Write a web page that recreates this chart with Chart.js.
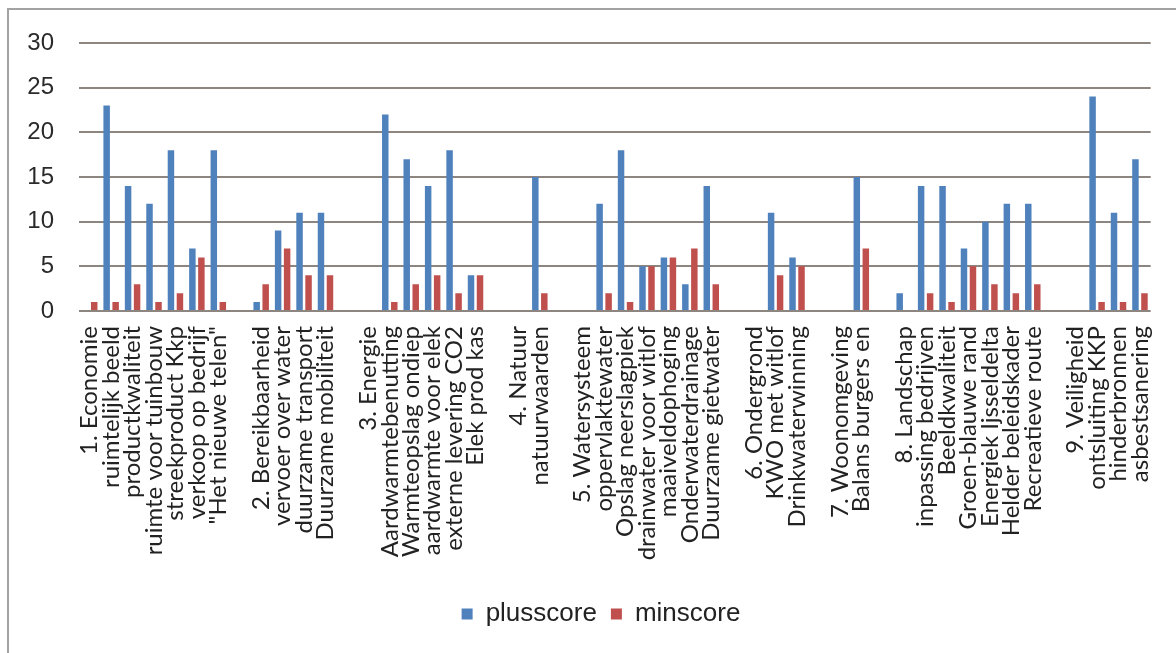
<!DOCTYPE html>
<html>
<head>
<meta charset="utf-8">
<script src="https://cdn.jsdelivr.net/npm/chart.js@4.4.1/dist/chart.umd.min.js"></script>
<style>
  html, body { margin: 0; padding: 0; background: #fff; }
  #wrap { position: relative; width: 1176px; height: 653px; }
  #frame { position: absolute; left: 7px; top: 8px; right: -10px; bottom: -10px;
    border-left: 2px solid #a3a3a3; border-top: 2px solid #a3a3a3; pointer-events: none; }
</style>
</head>
<body>
<div id="wrap">
  <canvas id="chart" width="1176" height="653"></canvas>
  <div id="frame"></div>
</div>
<script>
// categories, '' = empty spacer between themes
const categories = [
  '1. Economie', 'ruimtelijk beeld', 'productkwaliteit', 'ruimte voor tuinbouw', 'streekproduct Kkp', 'verkoop op bedrijf', '"Het nieuwe telen"',
  '',
  '2. Bereikbaarheid', 'vervoer over water', 'duurzame transport', 'Duurzame mobiliteit',
  '',
  '3. Energie', 'Aardwarmtebenutting', 'Warmteopslag ondiep', 'aardwarmte voor elek', 'externe levering CO2', 'Elek prod kas',
  '',
  '4. Natuur', 'natuurwaarden',
  '',
  '5. Watersysteem', 'oppervlaktewater', 'Opslag neerslagpiek', 'drainwater voor witlof', 'maaiveldophoging', 'Onderwaterdrainage', 'Duurzame gietwater',
  '',
  '6. Ondergrond', 'KWO met witlof', 'Drinkwaterwinning',
  '',
  '7. Woonomgeving', 'Balans burgers en',
  '',
  '8. Landschap', 'inpassing bedrijven', 'Beeldkwaliteit', 'Groen-blauwe rand', 'Energiek Ijsseldelta', 'Helder beleidskader', 'Recreatieve route',
  '',
  '9. Veiligheid', 'ontsluiting KKP', 'hinderbronnen', 'asbestsanering'
];

const plusscore = [
  0, 23, 14, 12, 18, 7, 18,
  null,
  1, 9, 11, 11,
  null,
  0, 22, 17, 14, 18, 4,
  null,
  0, 15,
  null,
  0, 12, 18, 5, 6, 3, 14,
  null,
  0, 11, 6,
  null,
  0, 15,
  null,
  2, 14, 14, 7, 10, 12, 12,
  null,
  0, 24, 11, 17
];

const minscore = [
  1, 1, 3, 1, 2, 6, 1,
  null,
  3, 7, 4, 4,
  null,
  0, 1, 3, 4, 2, 4,
  null,
  0, 2,
  null,
  0, 2, 1, 5, 6, 7, 3,
  null,
  0, 4, 5,
  null,
  0, 7,
  null,
  0, 2, 1, 5, 3, 2, 3,
  null,
  0, 1, 1, 2
];

const yTicks = [0, 5, 10, 15, 20, 25, 30];

const BLUE = '#4F81BD';
const RED = '#C0504D';
const GRID = '#8d8580';
const LEGEND_CENTER = 601;

// nudge the legend sideways, the original is not centred on the canvas
const legendShift = {
  id: 'legendShift',
  afterLayout(chart) {
    const lg = chart.legend;
    const dx = LEGEND_CENTER - (lg.left + lg.right) / 2;
    lg.left += dx;
    lg.right += dx;
  },
};

const ctx = document.getElementById('chart').getContext('2d');
new Chart(ctx, {
  type: 'bar',
  data: {
    labels: categories,
    datasets: [
      { label: 'plusscore', data: plusscore, backgroundColor: BLUE, categoryPercentage: 0.84, barPercentage: 0.72 },
      { label: 'minscore', data: minscore, backgroundColor: RED, categoryPercentage: 0.84, barPercentage: 0.72 },
    ],
  },
  options: {
    responsive: false,
    animation: false,
    layout: { padding: { left: 10, right: 25, top: 43, bottom: 16 } },
    plugins: {
      tooltip: { enabled: false },
      legend: {
        position: 'bottom',
        labels: {
          boxWidth: 11,
          boxHeight: 11,
          padding: 14,
          color: '#222',
          font: { family: 'Liberation Sans', size: 26 },
        },
      },
    },
    scales: {
      x: {
        grid: { display: false },
        border: { display: false },
        ticks: {
          autoSkip: false,
          maxRotation: 90,
          minRotation: 90,
          padding: 7,
          color: '#222',
          font: { family: 'Lato', size: 24 },
        },
        afterFit: (scale) => { scale.height = 276; },
      },
      y: {
        min: 0,
        max: 30,
        afterBuildTicks: (scale) => { scale.ticks = yTicks.map(v => ({ value: v })); },
        grid: { color: GRID, lineWidth: 2, drawTicks: false },
        border: { display: false },
        ticks: {
          padding: 25,
          color: '#2a2a2a',
          font: { family: 'Liberation Sans', size: 24 },
        },
        afterFit: (scale) => { scale.width = 69; },
      },
    },
  },
  plugins: [legendShift],
});
</script>
</body>
</html>
